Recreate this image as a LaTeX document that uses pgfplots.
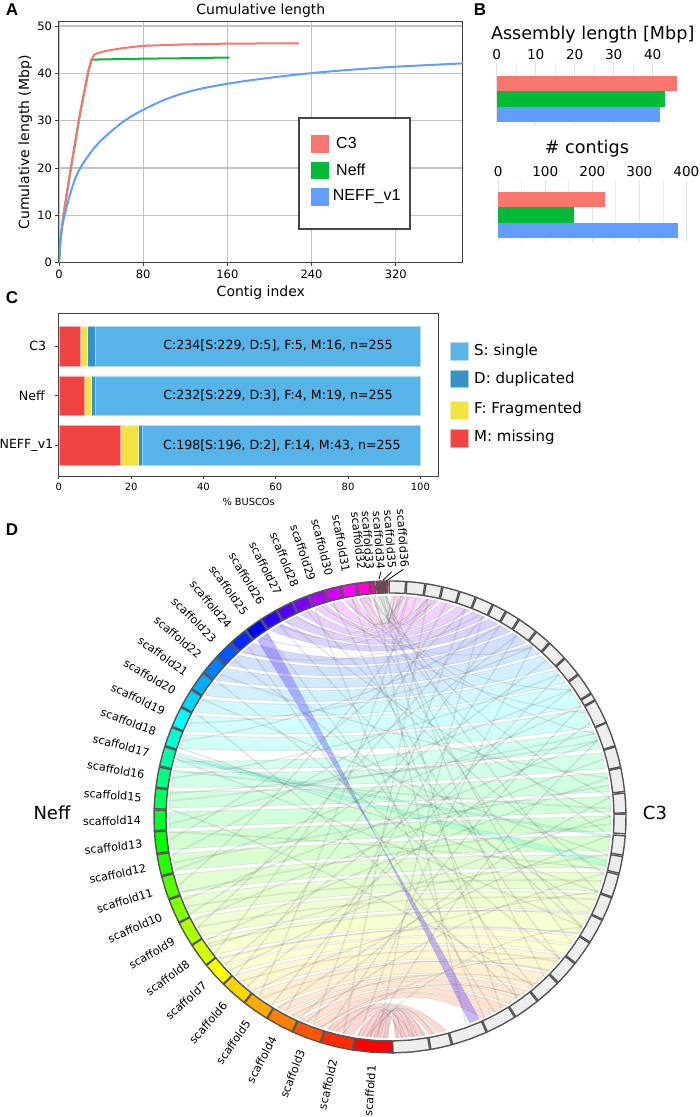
\PassOptionsToPackage{rgb}{xcolor}
\documentclass[border=0pt]{standalone}
\usepackage{pgfplots}
\usepackage{fontspec}
\pgfplotsset{compat=1.18}
\setmainfont{DejaVu Sans}
\newfontfamily\arialf{Liberation Sans}
\newcommand\fs[1]{\fontsize{#1}{#1}\selectfont}
\definecolor{cC}{HTML}{F8766D}
\definecolor{cN}{HTML}{00BA38}
\definecolor{cV}{HTML}{619CFF}
\definecolor{bS}{HTML}{56B4E9}
\definecolor{bD}{HTML}{3492C7}
\definecolor{bF}{HTML}{F0E442}
\definecolor{bM}{HTML}{F04442}
\definecolor{ringc}{HTML}{555555}
\definecolor{c3fill}{HTML}{EEEEEE}
\definecolor{s1}{HTML}{FF0000}\definecolor{s2}{HTML}{FF2A00}\definecolor{s3}{HTML}{FF5500}\definecolor{s4}{HTML}{FF8000}
\definecolor{s5}{HTML}{FFAA00}\definecolor{s6}{HTML}{FFD500}\definecolor{s7}{HTML}{FFFF00}\definecolor{s8}{HTML}{D5FF00}
\definecolor{s9}{HTML}{AAFF00}\definecolor{s10}{HTML}{80FF00}\definecolor{s11}{HTML}{55FF00}\definecolor{s12}{HTML}{2AFF00}
\definecolor{s13}{HTML}{00FF00}\definecolor{s14}{HTML}{00FF2A}\definecolor{s15}{HTML}{00FF55}\definecolor{s16}{HTML}{00FF80}
\definecolor{s17}{HTML}{00FFAA}\definecolor{s18}{HTML}{00FFD5}\definecolor{s19}{HTML}{00FFFF}\definecolor{s20}{HTML}{00D5FF}
\definecolor{s21}{HTML}{00AAFF}\definecolor{s22}{HTML}{0080FF}\definecolor{s23}{HTML}{0055FF}\definecolor{s24}{HTML}{002AFF}
\definecolor{s25}{HTML}{0000FF}\definecolor{s26}{HTML}{2A00FF}\definecolor{s27}{HTML}{5500FF}\definecolor{s28}{HTML}{8000FF}
\definecolor{s29}{HTML}{AA00FF}\definecolor{s30}{HTML}{D500FF}\definecolor{s31}{HTML}{FF00FF}\definecolor{s32}{HTML}{FF00D5}
\definecolor{s33}{HTML}{FF00AA}\definecolor{s34}{HTML}{FF0080}\definecolor{s35}{HTML}{FF0055}\definecolor{s36}{HTML}{FF002A}

\pgfplotsset{
  bandst/.style={fill opacity=0.18,draw opacity=0.22,line width=0.9pt},
  thinst/.style={fill=black!60,draw=black!60,fill opacity=0.11,draw opacity=0.11,line width=0.5pt},
  bbar/.style={scale only axis,xbar,y dir=reverse,bar shift=0pt,
    axis line style={draw=none},ytick=\empty,
    xticklabel pos=upper,major tick length=0pt,minor tick length=0pt,
    xtick style={draw=none},minor x tick num=1,xmajorgrids,xminorgrids,
    major grid style={color=black!11,line width=1pt},
    minor grid style={color=black!7,line width=0.7pt},
    clip=false,
    /pgf/number format/assume math mode=true,
    ticklabel style={font=\fs{13.6}},
    title style={font=\fs{17.6},anchor=base}},
}

% ---------- chord geometry: end angles are the data, the shape follows from them
\def\ptlist{}
\newcommand\edgeadd[2]{%
  \foreach \t in {0,.06,.13,.22,.32,.43,.57,.68,.78,.87,.94,1}{%
    \pgfmathsetmacro\aa{(1-\t)*(1-\t)+0.75*\t*(1-\t)}%
    \pgfmathsetmacro\bb{\t*\t+0.75*\t*(1-\t)}%
    \pgfmathsetmacro\xx{221*(\aa*cos(#1)+\bb*cos(#2))}%
    \pgfmathsetmacro\yy{221*(\aa*sin(#1)+\bb*sin(#2))}%
    \xdef\ptlist{\ptlist(\xx,\yy)}%
  }}
\newcommand\ribbon[5]{%
  \gdef\ptlist{}%
  \pgfmathsetmacro\pa{270-#1}\pgfmathsetmacro\pb{270-#2}%
  \pgfmathsetmacro\qa{#3-90}\pgfmathsetmacro\qb{#4-90}%
  \edgeadd{\pa}{\qa}\edgeadd{\qb}{\pb}%
  \edef\tmp{\noexpand\addplot[#5] coordinates {\ptlist} --cycle;}\tmp}
\newcommand\band[5]{%
  \pgfmathsetmacro\ia{#1+0.12}\pgfmathsetmacro\ib{#2-0.12}%
  \pgfmathsetmacro\ic{#3+0.12}\pgfmathsetmacro\id{#4-0.12}%
  \ribbon{\ia}{\ib}{\ic}{\id}{bandst,fill=#5,draw=black!40}}
\newcommand\thin[2]{\pgfmathsetmacro\ba{#1+0.3}\pgfmathsetmacro\ca{#2+0.3}%
  \ribbon{#1}{\ba}{#2}{\ca}{thinst}}
\newcommand\seg[3]{%
  \pgfmathsetmacro\am{(#1+#2)/2}%
  \pgfmathsetmacro\xa{224*cos(#1)}\pgfmathsetmacro\ya{224*sin(#1)}%
  \pgfmathsetmacro\xb{224*cos(\am)}\pgfmathsetmacro\yb{224*sin(\am)}%
  \pgfmathsetmacro\xc{224*cos(#2)}\pgfmathsetmacro\yc{224*sin(#2)}%
  \pgfmathsetmacro\xd{236*cos(#2)}\pgfmathsetmacro\yd{236*sin(#2)}%
  \pgfmathsetmacro\xe{236*cos(\am)}\pgfmathsetmacro\ye{236*sin(\am)}%
  \pgfmathsetmacro\xf{236*cos(#1)}\pgfmathsetmacro\yf{236*sin(#1)}%
  \edef\tmp{\noexpand\addplot[fill=#3,draw=ringc,line width=1.4pt] coordinates
    {(\xa,\ya)(\xb,\yb)(\xc,\yc)(\xd,\yd)(\xe,\ye)(\xf,\yf)} --cycle;}\tmp}
\newcommand\segN[3]{\pgfmathsetmacro\ta{270-#1}\pgfmathsetmacro\tb{270-#2}\seg{\ta}{\tb}{#3}}
\newcommand\segC[2]{\pgfmathsetmacro\ta{#1-90}\pgfmathsetmacro\tb{#2-90}\seg{\ta}{\tb}{c3fill}}

\begin{document}
\begin{tikzpicture}
\path[use as bounding box] (0pt,0pt) rectangle (700pt,1117pt);

% ---------- A
\begin{axis}[scale only axis,width=403.7pt,height=240.7pt,at={(59pt,854.3pt)},anchor=south west,
  xmin=0,xmax=383.6,ymin=0,ymax=50.85,
  xtick={0,80,160,240,320},ytick={0,10,20,30,40,50},
  grid=major,major grid style={color=black!24,line width=1.2pt},
  axis line style={color=black!75,line width=1pt},
  tick style={color=black!75,line width=0.7pt},major tick length=3.5pt,tick align=outside,
  xtick pos=bottom,ytick pos=left,
  /pgf/number format/assume math mode=true,
  ticklabel style={font=\fs{11.5}},
  title={Cumulative length},title style={font=\fs{14},at={(0.5,1)},anchor=base,yshift=1pt},
  xlabel={Contig index},xlabel style={font=\fs{14},at={(0.5,0)},anchor=base,yshift=-34pt},
  ylabel={Cumulative length (Mbp)},ylabel style={font=\fs{14},at={(axis description cs:-0.0743,0.5)},anchor=base},
]
\addplot[color=cN,line width=2pt] coordinates {(0,0)(1,4)(4,9.7)(10.5,18.9)(20,31.5)(28,40.5)(31,42.9)(80,43.1)(120,43.2)(162,43.35)};
\addplot[color=cC,line width=2pt,smooth,tension=0.25] coordinates {(0,0)(1,4)(4,9.7)(10.5,18.9)(20,31.5)(28,40.5)(31,42.9)(34,44)(40,44.5)(48.6,44.9)(60,45.3)(80,45.8)(118,46.1)(160,46.27)(228,46.35)};
\addplot[color=cV,line width=2pt,smooth,tension=0.6] coordinates {(0,0)(1,3.2)(2.5,6.9)(7.3,11.8)(15,17.5)(23,21)(36,24.9)(52,28.2)(64.5,30.3)(80,32.3)(102.5,34.6)(128,36.4)(160,37.8)(198,39)(240,40.05)(280,40.8)(320,41.4)(383.6,42.1)};
\end{axis}
\draw[fill=white,draw=black!72,line width=2pt] (299pt,999pt) rectangle (409.5pt,888pt);
\fill[cC] (311.3pt,982pt) rectangle (329.3pt,964pt);
\fill[cN] (311.3pt,955pt) rectangle (329.3pt,938pt);
\fill[cV] (311.3pt,929pt) rectangle (329.3pt,911pt);
\node[anchor=west,inner sep=0pt,font=\arialf\fs{16}] at (336pt,974pt) {C3};
\node[anchor=west,inner sep=0pt,font=\arialf\fs{16}] at (336pt,947pt) {Neff};
\node[anchor=west,inner sep=0pt,font=\arialf\fs{16}] at (332.7pt,920pt) {NEFF\_v1};

% ---------- B top
\begin{axis}[bbar,width=182.5pt,height=62pt,at={(496.7pt,992pt)},anchor=south west,
  xmin=0,xmax=46.8,ymin=-1.31,ymax=2.68,bar width=15.55pt,xtick={0,10,20,30,40},
  title={Assembly length [Mbp]},title style={at={(0.526,1)},yshift=17pt}]
\addplot[fill=cC,draw=none] coordinates {(46.2,0)};
\addplot[fill=cN,draw=none] coordinates {(43.2,1)};
\addplot[fill=cV,draw=none] coordinates {(41.9,2)};
\end{axis}
% ---------- B bottom
\begin{axis}[bbar,width=189pt,height=61.7pt,at={(498.3pt,875.3pt)},anchor=south west,
  xmin=0,xmax=402,ymin=-1.27,ymax=2.71,bar width=15.5pt,xtick={0,100,200,300,400},
  title={\# contigs},title style={at={(0.469,1)},yshift=20pt}]
\addplot[fill=cC,draw=none] coordinates {(226,0)};
\addplot[fill=cN,draw=none] coordinates {(160,1)};
\addplot[fill=cV,draw=none] coordinates {(383,2)};
\end{axis}

% ---------- C
\begin{axis}[scale only axis,xbar stacked,width=379.7pt,height=162.7pt,at={(58.8pt,641pt)},anchor=south west,
  y dir=reverse,xmin=0,xmax=105,ymin=-0.659,ymax=2.62,bar width=39.7pt,
  xtick={0,20,40,60,80,100},ytick={0,1,2},
  yticklabels={C3\hspace{7pt}\null,Neff\hspace{8.5pt}\null,NEFF\_v1},
  axis line style={color=black!75,line width=0.9pt},
  tick style={color=black!75,line width=0.7pt},major tick length=3.5pt,tick align=outside,
  xtick pos=bottom,ytick pos=left,
  /pgf/number format/assume math mode=true,
  xticklabel style={font=\fs{10}},yticklabel style={font=\fs{12.6},xshift=1.5pt},
  xlabel={\% BUSCOs},xlabel style={font=\fs{9.8},at={(0.5,0)},anchor=base,yshift=-29.5pt},
]
\addplot[fill=bM,draw=bM!45!white,line width=0.5pt] coordinates {(6,0)(7,1)(17,2)};
\addplot[fill=bF,draw=bF!45!white,line width=0.5pt] coordinates {(2,0)(2,1)(5,2)};
\addplot[fill=bD,draw=bD!45!white,line width=0.5pt] coordinates {(2,0)(1,1)(1,2)};
\addplot[fill=bS,draw=bS!45!white,line width=0.5pt] coordinates {(90,0)(90,1)(77,2)};
\end{axis}
\node[font=\fs{12.6}] at (278pt,771pt) {C:234[S:229, D:5], F:5, M:16, n=255};
\node[font=\fs{12.6}] at (278pt,721.3pt) {C:232[S:229, D:3], F:4, M:19, n=255};
\node[font=\fs{12.6}] at (282pt,671.7pt) {C:198[S:196, D:2], F:14, M:43, n=255};
\fill[bS,draw=bS!45!white] (450pt,775pt) rectangle (468pt,757pt);
\fill[bD,draw=bD!45!white] (450pt,747pt) rectangle (468pt,729.3pt);
\fill[bF,draw=bF!45!white] (450pt,716pt) rectangle (468pt,698pt);
\fill[bM,draw=bM!45!white] (450pt,688pt) rectangle (468pt,670pt);
\node[anchor=west,inner sep=0pt,font=\fs{15}] at (474pt,766pt) {S: single};
\node[anchor=west,inner sep=0pt,font=\fs{15}] at (474pt,738pt) {D: duplicated};
\node[anchor=west,inner sep=0pt,font=\fs{15}] at (474pt,707.5pt) {F: Fragmented};
\node[anchor=west,inner sep=0pt,font=\fs{15}] at (474pt,680pt) {M: missing};

% ---------- D
\begin{axis}[scale only axis,width=700pt,height=1117pt,at={(0pt,0pt)},anchor=south west,
  xmin=-390,xmax=310,ymin=-300,ymax=817,hide axis,clip=false]
% main links: Neff start, end, C3 start, end, colour
\band{0.3}{8.7}{1.2}{9.4}{s1}
\band{9.5}{12.5}{10.1}{12.1}{s2}
\band{12.9}{16.7}{12.5}{14.9}{s2}
\band{17.5}{20.5}{24.6}{27.6}{s3}
\band{20.9}{24}{28}{31.7}{s3}
\band{24.8}{28}{32.3}{35.2}{s4}
\band{28.4}{31}{35.6}{38.4}{s4}
\band{31.8}{37.7}{39}{45}{s5}
\band{38.5}{44.5}{45.6}{51.3}{s6}
\band{45.3}{48}{51.9}{54.5}{s7}
\band{48.4}{50.7}{54.9}{57.5}{s7}
\band{51.5}{56.7}{58.1}{63.8}{s8}
\band{57.5}{63}{64.4}{69.7}{s9}
\band{63.8}{69.1}{70.3}{75.5}{s10}
\band{70}{75}{76.5}{80}{s11}
\band{75.9}{80.5}{81}{85.1}{s12}
\band{81.4}{86.1}{86.2}{90.4}{s13}
\band{87}{91.4}{91.3}{95.5}{s14}
\band{92.3}{96.7}{96.5}{101.7}{s15}
\band{97.6}{101.9}{102.6}{107}{s16}
\band{102.8}{104.8}{107.9}{113.2}{s17}
\band{107.9}{112}{113.9}{119.2}{s18}
\band{112.9}{117.3}{119.9}{126.8}{s19}
\band{118.2}{122.3}{127.2}{131.8}{s20}
\band{123.2}{127.3}{132.3}{136.9}{s21}
\band{128.2}{132.3}{137.5}{141.3}{s22}
\band{133.2}{137.1}{141.8}{146.4}{s23}
\band{138}{141.8}{146.9}{150.1}{s24}
\band{147.3}{150.8}{150.6}{153.7}{s26}
\band{151.7}{155.1}{154.3}{158.2}{s27}
\band{156}{159.3}{158.8}{162.4}{s28}
\band{160.2}{163.4}{163}{166.7}{s29}
\band{164.3}{167.5}{167.3}{170.9}{s30}
\band{168.4}{171.3}{171.5}{175.5}{s31}
\band{172.2}{174.7}{176.1}{178}{s32}
\band{175.5}{176.1}{178.3}{179}{s33}
\ribbon{143.1}{146.4}{23.9}{21.1}{fill=s26,draw=s26,fill opacity=0.27,draw opacity=0.1,line width=0.5pt}
\band{104.9}{105.8}{84.6}{85.4}{s18}
\band{105.9}{106.9}{77}{78.8}{s18}
% thin links
\thin{1.5}{3}\thin{2.5}{5}\thin{3.5}{7}\thin{1}{6}\thin{5}{2}\thin{7}{4}\thin{12}{3}\thin{15}{6}\thin{6}{11}\thin{4}{8.5}
\thin{177}{178.8}\thin{177.6}{177}\thin{178}{175.5}\thin{178.6}{173}\thin{176}{179.5}\thin{179}{171}\thin{177.2}{169}\thin{172}{179}\thin{170}{177}\thin{178.9}{178}
\thin{178}{30}\thin{177}{55}\thin{178.5}{70}\thin{179}{44}\thin{176.5}{20}\thin{172}{60}\thin{170}{35}\thin{165}{50}\thin{160}{25}\thin{158}{75}
\thin{152}{90}\thin{150}{60}\thin{146}{40}\thin{140}{28}\thin{135}{65}\thin{130}{100}\thin{128}{50}\thin{122}{80}\thin{118}{35}\thin{115}{140}
\thin{110}{150}\thin{105}{60}\thin{100}{130}\thin{96}{110}\thin{92}{40}\thin{88}{125}\thin{84}{160}\thin{80}{145}\thin{76}{120}\thin{72}{170}
\thin{68}{110}\thin{64}{135}\thin{60}{155}\thin{56}{100}\thin{52}{165}\thin{48}{125}\thin{44}{150}\thin{40}{115}\thin{36}{175}\thin{32}{130}
\thin{28}{145}\thin{24}{95}\thin{20}{160}\thin{16}{120}\thin{12}{170}\thin{8}{140}\thin{5}{110}\thin{3}{155}\thin{6}{60}\thin{14}{50}
\thin{22}{75}\thin{30}{85}\thin{38}{70}\thin{46}{90}\thin{54}{80}\thin{62}{105}\thin{70}{88}\thin{78}{98}\thin{86}{76}\thin{94}{112}
\thin{102}{92}\thin{108}{70}\thin{50}{58}\thin{55}{64}\thin{60}{68}\thin{42}{49}\thin{35}{46}\thin{26}{41}\thin{18}{36}\thin{66}{73}
\thin{150}{170}\thin{155}{176}\thin{162}{140}\thin{168}{125}\thin{174}{112}\thin{175}{95}\thin{173}{85}\thin{164}{118}\thin{144}{168}\thin{138}{156}
% Neff sectors
\segN{-0.66}{9}{s1}\segN{9.2}{17}{s2}\segN{17.2}{24.3}{s3}\segN{24.5}{31.3}{s4}
\segN{31.5}{38}{s5}\segN{38.2}{44.8}{s6}\segN{45}{51}{s7}\segN{51.2}{57}{s8}
\segN{57.2}{63.3}{s9}\segN{63.5}{69.4}{s10}\segN{69.7}{75.3}{s11}\segN{75.6}{80.8}{s12}
\segN{81.1}{86.4}{s13}\segN{86.7}{91.7}{s14}\segN{92}{97}{s15}\segN{97.3}{102.2}{s16}
\segN{102.5}{107.3}{s17}\segN{107.6}{112.3}{s18}\segN{112.6}{117.6}{s19}\segN{117.9}{122.6}{s20}
\segN{122.9}{127.6}{s21}\segN{127.9}{132.6}{s22}\segN{132.9}{137.4}{s23}\segN{137.7}{142.1}{s24}
\segN{142.4}{146.7}{s25}\segN{147}{151.1}{s26}\segN{151.4}{155.4}{s27}\segN{155.7}{159.6}{s28}
\segN{159.9}{163.7}{s29}\segN{164}{167.8}{s30}\segN{168.1}{171.6}{s31}\segN{171.9}{175}{s32}
\segN{175.2}{176.3}{s33}\segN{176.7}{177.5}{s34!30!ringc}\segN{177.6}{178.4}{s35!30!ringc}\segN{178.5}{179.4}{s36!30!ringc}
% C3 sectors
\segC{0.7}{9.7}\segC{10}{15.1}\segC{15.4}{24.1}\segC{24.4}{31.9}\segC{32.2}{38.6}\segC{38.9}{45.2}
\segC{45.5}{51.5}\segC{51.8}{57.7}\segC{58}{64}\segC{64.3}{69.9}\segC{70.2}{75.8}\segC{76.2}{80.3}
\segC{80.7}{85.4}\segC{85.9}{90.7}\segC{91}{95.8}\segC{96.2}{102}\segC{102.3}{107.3}\segC{107.6}{113.5}
\segC{113.7}{119.5}\segC{119.8}{121.4}\segC{121.7}{127}\segC{127.3}{132.1}\segC{132.4}{137.3}\segC{137.6}{141.6}
\segC{141.9}{146.7}\segC{147}{150.4}\segC{150.7}{154}\segC{154.3}{158.5}\segC{158.8}{162.7}\segC{163}{167}
\segC{167.3}{171.2}\segC{171.5}{175.9}\segC{176.2}{180.2}
\end{axis}
\foreach \n/\b in {1/4.2,2/13.1,3/20.8,4/27.9,5/34.8,6/41.5,7/48,8/54.1,9/60.2,10/66.5,11/72.5,12/78.2,
  13/83.8,14/89.2,15/94.5,16/99.8,17/104.9,18/110,19/115.1,20/120.3,21/125.3,22/130.3,23/135.2,24/139.9,
  25/144.6,26/149,27/153.4,28/157.7,29/161.8,30/165.9,31/169.9,32/173.5}{
  \pgfmathsetmacro\ph{270-\b}
  \pgfmathsetmacro\rt{\ph+180}
  \node[rotate=\rt,anchor=east,inner sep=0pt,font=\fs{11.2}] at ([shift={(390pt,300pt)}]\ph:249pt) {scaffold\n};
}
\node[rotate=-86,anchor=east,inner sep=0pt,font=\fs{11.2}] at (370pt,547.7pt) {scaffold33};
\node[rotate=-86,anchor=east,inner sep=0pt,font=\fs{11.2}] at (381pt,547.7pt) {scaffold34};
\node[rotate=-86,anchor=east,inner sep=0pt,font=\fs{11.2}] at (392.3pt,548.7pt) {scaffold35};
\node[rotate=-86,anchor=east,inner sep=0pt,font=\fs{11.2}] at (405pt,549.7pt) {scaffold36};
\draw[line width=0.8pt] (381pt,545.3pt) -- (379pt,537.7pt);
\draw[line width=0.8pt] (391.7pt,545.3pt) -- (383.3pt,537pt);
\draw[line width=0.8pt] (403.3pt,547.7pt) -- (386.7pt,536.3pt);
\node[font=\fs{18}] at (52pt,304.5pt) {Neff};
\node[font=\fs{18}] at (655pt,304.5pt) {C3};

% panel letters
\node[font=\arialf\bfseries\fs{17}] at (12pt,1107pt) {A};
\node[font=\arialf\bfseries\fs{17}] at (480pt,1107pt) {B};
\node[font=\arialf\bfseries\fs{17}] at (12pt,819pt) {C};
\node[font=\arialf\bfseries\fs{17}] at (12pt,587pt) {D};
\end{tikzpicture}
\end{document}
